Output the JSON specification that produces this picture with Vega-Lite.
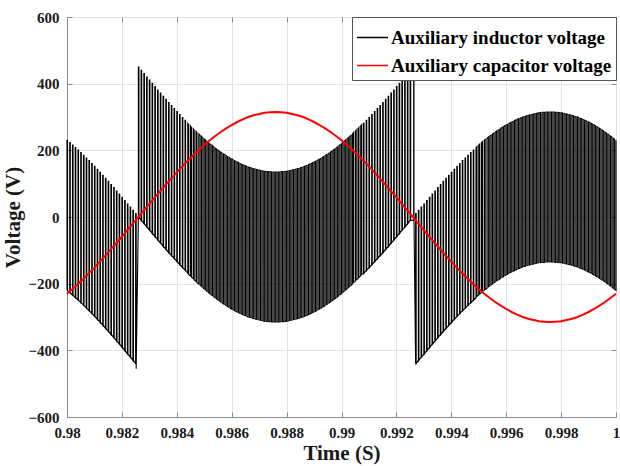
{
  "$schema": "https://vega.github.io/schema/vega-lite/v6.json",
  "width": 549,
  "height": 400,
  "autosize": {"type": "none"},
  "padding": {"left": 67, "top": 17, "right": 4, "bottom": 49},
  "background": "white",
  "config": {
    "view": {"stroke": "#8c8c8c", "strokeWidth": 1},
    "font": "Liberation Serif",
    "axis": {
      "labelFont": "Liberation Serif",
      "labelFontWeight": "bold",
      "labelFontSize": 15,
      "labelColor": "#1a1a1a",
      "labelFlush": false,
      "titleFont": "Liberation Serif",
      "titleFontWeight": "bold",
      "titleFontSize": 21,
      "titleColor": "#1a1a1a",
      "domainColor": "#8c8c8c",
      "tickColor": "#8c8c8c",
      "gridColor": "#e3e3e3",
      "gridWidth": 1
    },
    "legend": {
      "labelFont": "Liberation Serif",
      "labelFontWeight": "bold",
      "labelFontSize": 19,
      "labelColor": "#000000",
      "labelLimit": 0
    }
  },
  "datasets": {
    "inductor": [
      {"t":0.98,"a":-220,"b":230},{"t":0.98002,"a":230,"b":-220},
      {"t":0.9801,"a":-227,"b":223},{"t":0.98012,"a":223,"b":-227},
      {"t":0.9802,"a":-234,"b":216},{"t":0.98022,"a":216,"b":-234},
      {"t":0.9803,"a":-242,"b":208},{"t":0.98032,"a":208,"b":-242},
      {"t":0.9804,"a":-249,"b":201},{"t":0.98042,"a":201,"b":-249},
      {"t":0.9805,"a":-257,"b":193},{"t":0.98052,"a":193,"b":-257},
      {"t":0.9806,"a":-265,"b":185},{"t":0.98062,"a":185,"b":-265},
      {"t":0.9807,"a":-273,"b":177},{"t":0.98072,"a":177,"b":-273},
      {"t":0.9808,"a":-281,"b":169},{"t":0.98082,"a":169,"b":-281},
      {"t":0.9809,"a":-290,"b":160},{"t":0.98092,"a":160,"b":-290},
      {"t":0.981,"a":-298,"b":152},{"t":0.98102,"a":152,"b":-298},
      {"t":0.9811,"a":-307,"b":143},{"t":0.98112,"a":143,"b":-307},
      {"t":0.9812,"a":-316,"b":134},{"t":0.98122,"a":134,"b":-316},
      {"t":0.9813,"a":-325,"b":125},{"t":0.98132,"a":125,"b":-325},
      {"t":0.9814,"a":-334,"b":116},{"t":0.98142,"a":116,"b":-334},
      {"t":0.9815,"a":-343,"b":107},{"t":0.98152,"a":107,"b":-343},
      {"t":0.9816,"a":-353,"b":97},{"t":0.98162,"a":97,"b":-353},
      {"t":0.9817,"a":-362,"b":88},{"t":0.98172,"a":88,"b":-362},
      {"t":0.9818,"a":-372,"b":78},{"t":0.98182,"a":78,"b":-372},
      {"t":0.9819,"a":-381,"b":69},{"t":0.98192,"a":69,"b":-381},
      {"t":0.982,"a":-391,"b":59},{"t":0.98202,"a":59,"b":-391},
      {"t":0.9821,"a":-401,"b":49},{"t":0.98212,"a":49,"b":-401},
      {"t":0.9822,"a":-411,"b":39},{"t":0.98222,"a":39,"b":-411},
      {"t":0.9823,"a":-420,"b":30},{"t":0.98232,"a":30,"b":-420},
      {"t":0.9824,"a":-430,"b":20},{"t":0.98242,"a":20,"b":-430},
      {"t":0.9825,"a":-440,"b":10},{"t":0.98252,"a":10,"b":-455},
      {"t":0.9826,"a":0,"b":450},{"t":0.98262,"a":450,"b":0},
      {"t":0.9827,"a":-10,"b":440},{"t":0.98272,"a":440,"b":-10},
      {"t":0.9828,"a":-20,"b":430},{"t":0.98282,"a":430,"b":-20},
      {"t":0.9829,"a":-30,"b":420},{"t":0.98292,"a":420,"b":-30},
      {"t":0.983,"a":-39,"b":411},{"t":0.98302,"a":411,"b":-39},
      {"t":0.9831,"a":-49,"b":401},{"t":0.98312,"a":401,"b":-49},
      {"t":0.9832,"a":-59,"b":391},{"t":0.98322,"a":391,"b":-59},
      {"t":0.9833,"a":-69,"b":381},{"t":0.98332,"a":381,"b":-69},
      {"t":0.9834,"a":-78,"b":372},{"t":0.98342,"a":372,"b":-78},
      {"t":0.9835,"a":-88,"b":362},{"t":0.98352,"a":362,"b":-88},
      {"t":0.9836,"a":-97,"b":353},{"t":0.98362,"a":353,"b":-97},
      {"t":0.9837,"a":-107,"b":343},{"t":0.98372,"a":343,"b":-107},
      {"t":0.9838,"a":-116,"b":334},{"t":0.98382,"a":334,"b":-116},
      {"t":0.9839,"a":-125,"b":325},{"t":0.98392,"a":325,"b":-125},
      {"t":0.984,"a":-134,"b":316},{"t":0.98402,"a":316,"b":-134},
      {"t":0.9841,"a":-143,"b":307},{"t":0.98412,"a":307,"b":-143},
      {"t":0.9842,"a":-152,"b":298},{"t":0.98422,"a":298,"b":-152},
      {"t":0.9843,"a":-160,"b":290},{"t":0.98432,"a":290,"b":-160},
      {"t":0.9844,"a":-169,"b":281},{"t":0.984435,"a":277,"b":-173},
      {"t":0.9845,"a":-177,"b":273},{"t":0.984535,"a":269,"b":-181},
      {"t":0.9846,"a":-185,"b":265},{"t":0.984635,"a":261,"b":-189},
      {"t":0.9847,"a":-193,"b":257},{"t":0.984735,"a":253,"b":-197},
      {"t":0.9848,"a":-201,"b":249},{"t":0.98485,"a":245,"b":-205},
      {"t":0.9849,"a":-208,"b":242},{"t":0.98495,"a":238,"b":-212},
      {"t":0.985,"a":-216,"b":234},{"t":0.98505,"a":231,"b":-219},
      {"t":0.9851,"a":-223,"b":227},{"t":0.98515,"a":224,"b":-226},
      {"t":0.9852,"a":-230,"b":220},{"t":0.98525,"a":217,"b":-233},
      {"t":0.9853,"a":-236,"b":214},{"t":0.98535,"a":210,"b":-240},
      {"t":0.9854,"a":-243,"b":207},{"t":0.98545,"a":204,"b":-246},
      {"t":0.9855,"a":-249,"b":201},{"t":0.98555,"a":198,"b":-252},
      {"t":0.9856,"a":-255,"b":195},{"t":0.98565,"a":192,"b":-258},
      {"t":0.9857,"a":-261,"b":189},{"t":0.98575,"a":187,"b":-263},
      {"t":0.9858,"a":-266,"b":184},{"t":0.98585,"a":181,"b":-269},
      {"t":0.9859,"a":-271,"b":179},{"t":0.98595,"a":176,"b":-274},
      {"t":0.986,"a":-276,"b":174},{"t":0.98605,"a":172,"b":-278},
      {"t":0.9861,"a":-281,"b":169},{"t":0.98615,"a":167,"b":-283},
      {"t":0.9862,"a":-285,"b":165},{"t":0.98625,"a":163,"b":-287},
      {"t":0.9863,"a":-289,"b":161},{"t":0.98635,"a":159,"b":-291},
      {"t":0.9864,"a":-293,"b":157},{"t":0.98645,"a":155,"b":-295},
      {"t":0.9865,"a":-296,"b":154},{"t":0.98655,"a":152,"b":-298},
      {"t":0.9866,"a":-300,"b":150},{"t":0.98665,"a":149,"b":-301},
      {"t":0.9867,"a":-302,"b":148},{"t":0.98675,"a":146,"b":-304},
      {"t":0.9868,"a":-305,"b":145},{"t":0.98685,"a":144,"b":-306},
      {"t":0.9869,"a":-307,"b":143},{"t":0.98695,"a":142,"b":-308},
      {"t":0.987,"a":-309,"b":141},{"t":0.98705,"a":140,"b":-310},
      {"t":0.9871,"a":-311,"b":139},{"t":0.98715,"a":138,"b":-312},
      {"t":0.9872,"a":-313,"b":137},{"t":0.98725,"a":137,"b":-313},
      {"t":0.9873,"a":-314,"b":136},{"t":0.98735,"a":136,"b":-314},
      {"t":0.9874,"a":-314,"b":136},{"t":0.98745,"a":135,"b":-315},
      {"t":0.9875,"a":-315,"b":135},{"t":0.98755,"a":135,"b":-315},
      {"t":0.9876,"a":-315,"b":135},{"t":0.98765,"a":135,"b":-315},
      {"t":0.9877,"a":-315,"b":135},{"t":0.98775,"a":135,"b":-315},
      {"t":0.9878,"a":-314,"b":136},{"t":0.98785,"a":136,"b":-314},
      {"t":0.9879,"a":-314,"b":136},{"t":0.98795,"a":137,"b":-313},
      {"t":0.988,"a":-313,"b":137},{"t":0.98805,"a":138,"b":-312},
      {"t":0.9881,"a":-311,"b":139},{"t":0.98815,"a":140,"b":-310},
      {"t":0.9882,"a":-309,"b":141},{"t":0.98825,"a":142,"b":-308},
      {"t":0.9883,"a":-307,"b":143},{"t":0.98835,"a":144,"b":-306},
      {"t":0.9884,"a":-305,"b":145},{"t":0.98845,"a":146,"b":-304},
      {"t":0.9885,"a":-302,"b":148},{"t":0.98855,"a":149,"b":-301},
      {"t":0.9886,"a":-300,"b":150},{"t":0.98865,"a":152,"b":-298},
      {"t":0.9887,"a":-296,"b":154},{"t":0.98875,"a":155,"b":-295},
      {"t":0.9888,"a":-293,"b":157},{"t":0.98885,"a":159,"b":-291},
      {"t":0.9889,"a":-289,"b":161},{"t":0.98895,"a":163,"b":-287},
      {"t":0.989,"a":-285,"b":165},{"t":0.98905,"a":167,"b":-283},
      {"t":0.9891,"a":-281,"b":169},{"t":0.98915,"a":172,"b":-278},
      {"t":0.9892,"a":-276,"b":174},{"t":0.98925,"a":176,"b":-274},
      {"t":0.9893,"a":-271,"b":179},{"t":0.98935,"a":181,"b":-269},
      {"t":0.9894,"a":-266,"b":184},{"t":0.98945,"a":187,"b":-263},
      {"t":0.9895,"a":-261,"b":189},{"t":0.98955,"a":192,"b":-258},
      {"t":0.9896,"a":-255,"b":195},{"t":0.98965,"a":198,"b":-252},
      {"t":0.9897,"a":-249,"b":201},{"t":0.98975,"a":204,"b":-246},
      {"t":0.9898,"a":-243,"b":207},{"t":0.98985,"a":210,"b":-240},
      {"t":0.9899,"a":-236,"b":214},{"t":0.98995,"a":217,"b":-233},
      {"t":0.99,"a":-230,"b":220},{"t":0.99005,"a":224,"b":-226},
      {"t":0.9901,"a":-223,"b":227},{"t":0.99015,"a":231,"b":-219},
      {"t":0.9902,"a":-216,"b":234},{"t":0.99025,"a":238,"b":-212},
      {"t":0.9903,"a":-208,"b":242},{"t":0.99035,"a":245,"b":-205},
      {"t":0.9904,"a":-201,"b":249},{"t":0.990435,"a":253,"b":-197},
      {"t":0.9905,"a":-193,"b":257},{"t":0.990535,"a":261,"b":-189},
      {"t":0.9906,"a":-185,"b":265},{"t":0.990635,"a":269,"b":-181},
      {"t":0.9907,"a":-177,"b":273},{"t":0.990735,"a":277,"b":-173},
      {"t":0.9908,"a":-169,"b":281},{"t":0.99082,"a":281,"b":-169},
      {"t":0.9909,"a":-160,"b":290},{"t":0.99092,"a":290,"b":-160},
      {"t":0.991,"a":-152,"b":298},{"t":0.99102,"a":298,"b":-152},
      {"t":0.9911,"a":-143,"b":307},{"t":0.99112,"a":307,"b":-143},
      {"t":0.9912,"a":-134,"b":316},{"t":0.99122,"a":316,"b":-134},
      {"t":0.9913,"a":-125,"b":325},{"t":0.99132,"a":325,"b":-125},
      {"t":0.9914,"a":-116,"b":334},{"t":0.99142,"a":334,"b":-116},
      {"t":0.9915,"a":-107,"b":343},{"t":0.99152,"a":343,"b":-107},
      {"t":0.9916,"a":-97,"b":353},{"t":0.99162,"a":353,"b":-97},
      {"t":0.9917,"a":-88,"b":362},{"t":0.99172,"a":362,"b":-88},
      {"t":0.9918,"a":-78,"b":372},{"t":0.99182,"a":372,"b":-78},
      {"t":0.9919,"a":-69,"b":381},{"t":0.99192,"a":381,"b":-69},
      {"t":0.992,"a":-59,"b":391},{"t":0.99202,"a":391,"b":-59},
      {"t":0.9921,"a":-49,"b":401},{"t":0.99212,"a":401,"b":-49},
      {"t":0.9922,"a":-39,"b":411},{"t":0.99222,"a":411,"b":-39},
      {"t":0.9923,"a":-30,"b":420},{"t":0.99232,"a":420,"b":-30},
      {"t":0.9924,"a":-20,"b":430},{"t":0.99242,"a":430,"b":-20},
      {"t":0.9925,"a":-10,"b":440},{"t":0.99252,"a":440,"b":-10},
      {"t":0.99263,"a":-10,"b":450},{"t":0.99264,"a":450,"b":0},
      {"t":0.9927,"a":-440,"b":10},{"t":0.99272,"a":10,"b":-440},
      {"t":0.9928,"a":-430,"b":20},{"t":0.99282,"a":20,"b":-430},
      {"t":0.9929,"a":-420,"b":30},{"t":0.99292,"a":30,"b":-420},
      {"t":0.993,"a":-411,"b":39},{"t":0.99302,"a":39,"b":-411},
      {"t":0.9931,"a":-401,"b":49},{"t":0.99312,"a":49,"b":-401},
      {"t":0.9932,"a":-391,"b":59},{"t":0.99322,"a":59,"b":-391},
      {"t":0.9933,"a":-381,"b":69},{"t":0.99332,"a":69,"b":-381},
      {"t":0.9934,"a":-372,"b":78},{"t":0.99342,"a":78,"b":-372},
      {"t":0.9935,"a":-362,"b":88},{"t":0.99352,"a":88,"b":-362},
      {"t":0.9936,"a":-353,"b":97},{"t":0.99362,"a":97,"b":-353},
      {"t":0.9937,"a":-343,"b":107},{"t":0.99372,"a":107,"b":-343},
      {"t":0.9938,"a":-334,"b":116},{"t":0.99382,"a":116,"b":-334},
      {"t":0.9939,"a":-325,"b":125},{"t":0.99392,"a":125,"b":-325},
      {"t":0.994,"a":-316,"b":134},{"t":0.99402,"a":134,"b":-316},
      {"t":0.9941,"a":-307,"b":143},{"t":0.99412,"a":143,"b":-307},
      {"t":0.9942,"a":-298,"b":152},{"t":0.99422,"a":152,"b":-298},
      {"t":0.9943,"a":-290,"b":160},{"t":0.99432,"a":160,"b":-290},
      {"t":0.9944,"a":-281,"b":169},{"t":0.99442,"a":169,"b":-281},
      {"t":0.9945,"a":-273,"b":177},{"t":0.99452,"a":177,"b":-273},
      {"t":0.9946,"a":-265,"b":185},{"t":0.99462,"a":185,"b":-265},
      {"t":0.9947,"a":-257,"b":193},{"t":0.99472,"a":193,"b":-257},
      {"t":0.9948,"a":-249,"b":201},{"t":0.99482,"a":201,"b":-249},
      {"t":0.9949,"a":-242,"b":208},{"t":0.994935,"a":212,"b":-238},
      {"t":0.995,"a":-234,"b":216},{"t":0.995035,"a":219,"b":-231},
      {"t":0.9951,"a":-227,"b":223},{"t":0.995135,"a":226,"b":-224},
      {"t":0.9952,"a":-220,"b":230},{"t":0.995235,"a":233,"b":-217},
      {"t":0.9953,"a":-214,"b":236},{"t":0.99535,"a":240,"b":-210},
      {"t":0.9954,"a":-207,"b":243},{"t":0.99545,"a":246,"b":-204},
      {"t":0.9955,"a":-201,"b":249},{"t":0.99555,"a":252,"b":-198},
      {"t":0.9956,"a":-195,"b":255},{"t":0.99565,"a":258,"b":-192},
      {"t":0.9957,"a":-189,"b":261},{"t":0.99575,"a":263,"b":-187},
      {"t":0.9958,"a":-184,"b":266},{"t":0.99585,"a":269,"b":-181},
      {"t":0.9959,"a":-179,"b":271},{"t":0.99595,"a":274,"b":-176},
      {"t":0.996,"a":-174,"b":276},{"t":0.99605,"a":278,"b":-172},
      {"t":0.9961,"a":-169,"b":281},{"t":0.99615,"a":283,"b":-167},
      {"t":0.9962,"a":-165,"b":285},{"t":0.99625,"a":287,"b":-163},
      {"t":0.9963,"a":-161,"b":289},{"t":0.99635,"a":291,"b":-159},
      {"t":0.9964,"a":-157,"b":293},{"t":0.99645,"a":295,"b":-155},
      {"t":0.9965,"a":-154,"b":296},{"t":0.99655,"a":298,"b":-152},
      {"t":0.9966,"a":-150,"b":300},{"t":0.99665,"a":301,"b":-149},
      {"t":0.9967,"a":-148,"b":302},{"t":0.99675,"a":304,"b":-146},
      {"t":0.9968,"a":-145,"b":305},{"t":0.99685,"a":306,"b":-144},
      {"t":0.9969,"a":-143,"b":307},{"t":0.99695,"a":308,"b":-142},
      {"t":0.997,"a":-141,"b":309},{"t":0.99705,"a":310,"b":-140},
      {"t":0.9971,"a":-139,"b":311},{"t":0.99715,"a":312,"b":-138},
      {"t":0.9972,"a":-137,"b":313},{"t":0.99725,"a":313,"b":-137},
      {"t":0.9973,"a":-136,"b":314},{"t":0.99735,"a":314,"b":-136},
      {"t":0.9974,"a":-136,"b":314},{"t":0.99745,"a":315,"b":-135},
      {"t":0.9975,"a":-135,"b":315},{"t":0.99755,"a":315,"b":-135},
      {"t":0.9976,"a":-135,"b":315},{"t":0.99765,"a":315,"b":-135},
      {"t":0.9977,"a":-135,"b":315},{"t":0.99775,"a":315,"b":-135},
      {"t":0.9978,"a":-136,"b":314},{"t":0.99785,"a":314,"b":-136},
      {"t":0.9979,"a":-136,"b":314},{"t":0.99795,"a":313,"b":-137},
      {"t":0.998,"a":-137,"b":313},{"t":0.99805,"a":312,"b":-138},
      {"t":0.9981,"a":-139,"b":311},{"t":0.99815,"a":310,"b":-140},
      {"t":0.9982,"a":-141,"b":309},{"t":0.99825,"a":308,"b":-142},
      {"t":0.9983,"a":-143,"b":307},{"t":0.99835,"a":306,"b":-144},
      {"t":0.9984,"a":-145,"b":305},{"t":0.99845,"a":304,"b":-146},
      {"t":0.9985,"a":-148,"b":302},{"t":0.99855,"a":301,"b":-149},
      {"t":0.9986,"a":-150,"b":300},{"t":0.99865,"a":298,"b":-152},
      {"t":0.9987,"a":-154,"b":296},{"t":0.99875,"a":295,"b":-155},
      {"t":0.9988,"a":-157,"b":293},{"t":0.99885,"a":291,"b":-159},
      {"t":0.9989,"a":-161,"b":289},{"t":0.99895,"a":287,"b":-163},
      {"t":0.999,"a":-165,"b":285},{"t":0.99905,"a":283,"b":-167},
      {"t":0.9991,"a":-169,"b":281},{"t":0.99915,"a":278,"b":-172},
      {"t":0.9992,"a":-174,"b":276},{"t":0.99925,"a":274,"b":-176},
      {"t":0.9993,"a":-179,"b":271},{"t":0.99935,"a":269,"b":-181},
      {"t":0.9994,"a":-184,"b":266},{"t":0.99945,"a":263,"b":-187},
      {"t":0.9995,"a":-189,"b":261},{"t":0.99955,"a":258,"b":-192},
      {"t":0.9996,"a":-195,"b":255},{"t":0.99965,"a":252,"b":-198},
      {"t":0.9997,"a":-201,"b":249},{"t":0.99975,"a":246,"b":-204},
      {"t":0.9998,"a":-207,"b":243},{"t":0.99985,"a":240,"b":-210},
      {"t":0.9999,"a":-214,"b":236},{"t":0.99995,"a":233,"b":-217},
      {"t":1,"a":-220,"b":230}
    ],
    "capacitor": [
      {"t":0.98,"v":-230},{"t":0.9802,"v":-216},{"t":0.9804,"v":-201},{"t":0.9806,"v":-185},
      {"t":0.9808,"v":-169},{"t":0.981,"v":-152},{"t":0.9812,"v":-134},{"t":0.9814,"v":-116},
      {"t":0.9816,"v":-97},{"t":0.9818,"v":-78},{"t":0.982,"v":-59},{"t":0.9822,"v":-39},
      {"t":0.9824,"v":-20},{"t":0.9826,"v":0},{"t":0.9828,"v":20},{"t":0.983,"v":39},
      {"t":0.9832,"v":59},{"t":0.9834,"v":78},{"t":0.9836,"v":97},{"t":0.9838,"v":116},
      {"t":0.984,"v":134},{"t":0.9842,"v":152},{"t":0.9844,"v":169},{"t":0.9846,"v":185},
      {"t":0.9848,"v":201},{"t":0.985,"v":216},{"t":0.9852,"v":230},{"t":0.9854,"v":243},
      {"t":0.9856,"v":255},{"t":0.9858,"v":266},{"t":0.986,"v":276},{"t":0.9862,"v":285},
      {"t":0.9864,"v":293},{"t":0.9866,"v":300},{"t":0.9868,"v":305},{"t":0.987,"v":309},
      {"t":0.9872,"v":313},{"t":0.9874,"v":314},{"t":0.9876,"v":315},{"t":0.9878,"v":314},
      {"t":0.988,"v":313},{"t":0.9882,"v":309},{"t":0.9884,"v":305},{"t":0.9886,"v":300},
      {"t":0.9888,"v":293},{"t":0.989,"v":285},{"t":0.9892,"v":276},{"t":0.9894,"v":266},
      {"t":0.9896,"v":255},{"t":0.9898,"v":243},{"t":0.99,"v":230},{"t":0.9902,"v":216},
      {"t":0.9904,"v":201},{"t":0.9906,"v":185},{"t":0.9908,"v":169},{"t":0.991,"v":152},
      {"t":0.9912,"v":134},{"t":0.9914,"v":116},{"t":0.9916,"v":97},{"t":0.9918,"v":78},
      {"t":0.992,"v":59},{"t":0.9922,"v":39},{"t":0.9924,"v":20},{"t":0.9926,"v":0},
      {"t":0.9928,"v":-20},{"t":0.993,"v":-39},{"t":0.9932,"v":-59},{"t":0.9934,"v":-78},
      {"t":0.9936,"v":-97},{"t":0.9938,"v":-116},{"t":0.994,"v":-134},{"t":0.9942,"v":-152},
      {"t":0.9944,"v":-169},{"t":0.9946,"v":-185},{"t":0.9948,"v":-201},{"t":0.995,"v":-216},
      {"t":0.9952,"v":-230},{"t":0.9954,"v":-243},{"t":0.9956,"v":-255},{"t":0.9958,"v":-266},
      {"t":0.996,"v":-276},{"t":0.9962,"v":-285},{"t":0.9964,"v":-293},{"t":0.9966,"v":-300},
      {"t":0.9968,"v":-305},{"t":0.997,"v":-309},{"t":0.9972,"v":-313},{"t":0.9974,"v":-314},
      {"t":0.9976,"v":-315},{"t":0.9978,"v":-314},{"t":0.998,"v":-313},{"t":0.9982,"v":-309},
      {"t":0.9984,"v":-305},{"t":0.9986,"v":-300},{"t":0.9988,"v":-293},{"t":0.999,"v":-285},
      {"t":0.9992,"v":-276},{"t":0.9994,"v":-266},{"t":0.9996,"v":-255},{"t":0.9998,"v":-243},
      {"t":1,"v":-230}
    ]
  },
  "layer": [
    {
      "data": {"name": "inductor"},
      "transform": [{"fold": ["a", "b"]}],
      "mark": {"type": "line", "strokeWidth": 1.1, "strokeJoin": "miter"},
      "encoding": {
        "x": {
          "field": "t",
          "type": "quantitative",
          "scale": {"domain": [0.98, 1], "nice": false, "zero": false},
          "axis": {
            "title": "Time (S)",
            "values": [0.98, 0.982, 0.984, 0.986, 0.988, 0.99, 0.992, 0.994, 0.996, 0.998, 1],
            "format": "~g",
            "tickSize": -5,
            "labelPadding": 13,
            "titlePadding": 2,
            "grid": true
          }
        },
        "y": {
          "field": "value",
          "type": "quantitative",
          "scale": {"domain": [-600, 600], "nice": false},
          "axis": {
            "title": "Voltage (V)",
            "values": [-600, -400, -200, 0, 200, 400, 600],
            "format": "d",
            "tickSize": -5,
            "labelPadding": 13,
            "titlePadding": 4,
            "grid": true
          }
        },
        "order": [
          {"field": "t", "type": "quantitative"},
          {"field": "key", "type": "ordinal"}
        ],
        "color": {
          "datum": "Auxiliary inductor voltage",
          "scale": {
            "domain": ["Auxiliary inductor voltage", "Auxiliary capacitor voltage"],
            "range": ["#000000", "#ff0000"]
          },
          "legend": {
            "title": null,
            "orient": "none",
            "legendX": 285,
            "legendY": 0,
            "symbolType": "stroke",
            "symbolSize": 961,
            "symbolStrokeWidth": 1.5,
            "labelOffset": 2,
            "rowPadding": 1,
            "padding": 4,
            "strokeColor": "#555555",
            "fillColor": "#ffffff"
          }
        }
      }
    },
    {
      "data": {"name": "capacitor"},
      "mark": {"type": "line", "strokeWidth": 2},
      "encoding": {
        "x": {
          "field": "t",
          "type": "quantitative",
          "axis": {"orient": "top", "labels": false, "title": null, "grid": false, "domain": false, "tickSize": -5,
                   "values": [0.98, 0.982, 0.984, 0.986, 0.988, 0.99, 0.992, 0.994, 0.996, 0.998, 1]}
        },
        "y": {
          "field": "v",
          "type": "quantitative",
          "axis": {"orient": "right", "labels": false, "title": null, "grid": false, "domain": false, "tickSize": -5,
                   "values": [-600, -400, -200, 0, 200, 400, 600]}
        },
        "color": {"datum": "Auxiliary capacitor voltage"}
      }
    }
  ],
  "resolve": {"axis": {"x": "independent", "y": "independent"}}
}
